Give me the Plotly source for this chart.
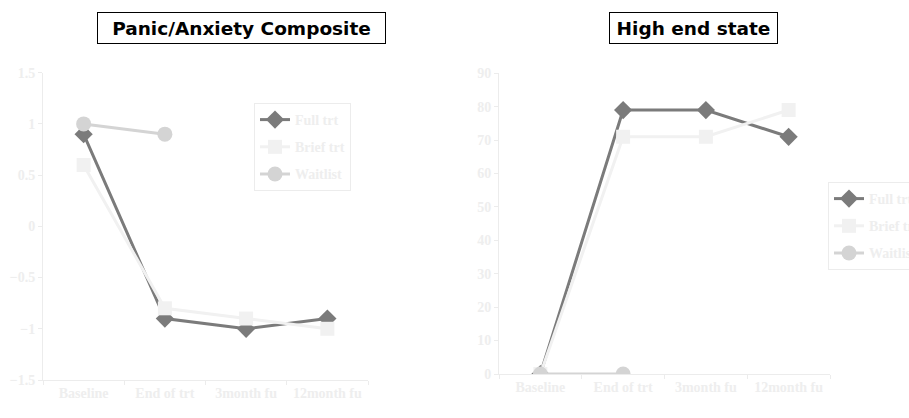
import plotly.graph_objects as go

# Time points shared by both panels
timepoints = ["Baseline", "End of trt", "3month fu", "12month fu"]

# Panic/Anxiety Composite scores
panic_full = [0.9, -0.9, -1.0, -0.9]
panic_brief = [0.6, -0.8, -0.9, -1.0]
panic_wait = [1.0, 0.9]

# High end state (percent)
hes_full = [0, 79, 79, 71]
hes_brief = [0, 71, 71, 79]
hes_wait = [0, 0]

series_names = ["Full trt", "Brief trt", "Waitlist"]

W, H = 909, 418

def px_x(x0, x1):
    return [x0 / W, x1 / W]

def px_y(top, bottom):
    return [1 - bottom / H, 1 - top / H]

FULL_C = "#7b7b7b"
BRIEF_C = "#f1f1f1"
WAIT_C = "#d4d4d4"
AXIS_C = "#ececec"
TEXT_C = "#eeeeee"
SERIF = "Liberation Serif"

styles = [
    dict(color=FULL_C, symbol="diamond", size=14),
    dict(color=BRIEF_C, symbol="square", size=14),
    dict(color=WAIT_C, symbol="circle", size=15),
]

fig = go.Figure()

panels = [
    ("x", "y", "legend", [panic_full, panic_brief, panic_wait], "p"),
    ("x2", "y2", "legend2", [hes_full, hes_brief, hes_wait], "h"),
]
for xa, ya, lg, data, tag in panels:
    for name, vals, st in zip(series_names, data, styles):
        fig.add_trace(go.Scatter(
            x=timepoints[:len(vals)], y=vals, name=name,
            mode="lines+markers", xaxis=xa, yaxis=ya, legend=lg,
            legendgroup=tag + name,
            line=dict(color=st["color"], width=3),
            marker=dict(color=st["color"], symbol=st["symbol"], size=st["size"]),
        ))

tickfont = dict(family=SERIF, size=14, color=TEXT_C, weight="bold")

def xaxis_cfg(domain, anchor):
    return dict(domain=domain, anchor=anchor, type="category",
                categoryorder="array", categoryarray=timepoints,
                range=[-0.5, 3.5], tickson="boundaries", ticks="outside",
                ticklen=4, tickcolor=AXIS_C, showline=True, linecolor=AXIS_C,
                linewidth=1, showgrid=False, zeroline=False, tickfont=tickfont,
                fixedrange=True)

def yaxis_cfg(domain, anchor, rng, dtick):
    return dict(domain=domain, anchor=anchor, range=rng, dtick=dtick,
                ticks="outside", ticklen=4, tickcolor=AXIS_C, showline=True,
                linecolor=AXIS_C, linewidth=1, showgrid=False, zeroline=False,
                tickfont=tickfont, fixedrange=True)

legend_font = dict(family=SERIF, size=14, color=TEXT_C, weight="bold")

fig.update_layout(
    width=W, height=H,
    margin=dict(l=0, r=0, t=0, b=0, autoexpand=False),
    paper_bgcolor="white", plot_bgcolor="white",
    xaxis=xaxis_cfg(px_x(43, 368), "y"),
    yaxis=yaxis_cfg(px_y(72.7, 380), "x", [-1.5, 1.5], 0.5),
    xaxis2=xaxis_cfg(px_x(499, 830), "y2"),
    yaxis2=yaxis_cfg(px_y(73.3, 374), "x2", [0, 90], 10),
    legend=dict(x=254 / W, y=1 - 103 / H, xanchor="left", yanchor="top",
                bordercolor=AXIS_C, borderwidth=1, bgcolor="white",
                font=legend_font, itemwidth=30, tracegroupgap=6,
                traceorder="grouped"),
    legend2=dict(x=828 / W, y=1 - 182 / H, xanchor="left", yanchor="top",
                 bordercolor=AXIS_C, borderwidth=1, bgcolor="white",
                 font=legend_font, itemwidth=30, tracegroupgap=6,
                 traceorder="grouped"),
    showlegend=True,
)

title_font = dict(family="DejaVu Sans", size=18.5, color="black", weight="bold")
for text, cx, w in [("Panic/Anxiety Composite", 241.5, 281),
                    ("High end state", 693.5, 161)]:
    fig.add_annotation(
        text=text, x=cx / W, y=1 - 28 / H, xref="paper", yref="paper",
        xanchor="center", yanchor="middle", showarrow=False,
        width=w, height=24, borderpad=3, bordercolor="black", borderwidth=1,
        bgcolor="white", font=title_font,
    )

fig.write_html("out.html")
